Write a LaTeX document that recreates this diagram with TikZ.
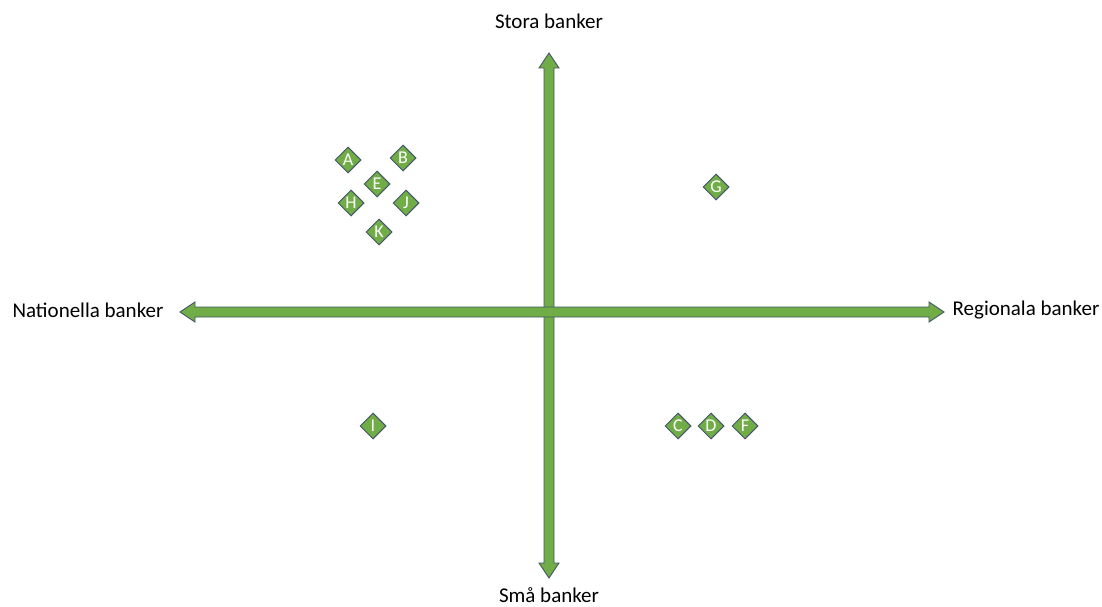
\documentclass[tikz,border=0pt]{standalone}
\usepackage{fontspec}
\setmainfont{Carlito}
\usetikzlibrary{shapes.geometric}
\definecolor{agreen}{HTML}{70AD47}
\definecolor{aedge}{HTML}{44546A}
\tikzset{
  bank/.style={diamond, draw=aedge, line width=1pt, fill=agreen, text=white, inner sep=0pt,
    minimum width=26pt, minimum height=26pt, aspect=1, font=\fontsize{18}{18}\selectfont},
  axislabel/.style={font=\fontsize{21}{22}\selectfont, text=black, inner sep=0pt},
  axisarrow/.style={draw=aedge, line width=0.9pt, fill=agreen, line join=miter}
}
\begin{document}
\begin{tikzpicture}[x=1pt,y=-1pt]
\useasboundingbox (0,0) rectangle (1102,607);
% vertical axis
\draw[axisarrow] (549,53) -- (559,68) -- (554,68) -- (554,563) -- (559,563) -- (549,578) -- (539,563) -- (544,563) -- (544,68) -- (539,68) -- cycle;
% horizontal axis
\draw[axisarrow] (180,312) -- (195,302) -- (195,307) -- (929,307) -- (929,302) -- (944,312) -- (929,322) -- (929,317) -- (195,317) -- (195,322) -- cycle;
% labels
\node[axislabel] (top) at (549,21) {Stora banker};
\node[axislabel] (bottom) at (549,595) {Små banker};
\node[axislabel] (left) at (88,310) {Nationella banker};
\node[axislabel] (right) at (1026,310) {Regionala banker};
% banks
\node[bank] (A) at (348,160) {A};
\node[bank] (B) at (403,158) {B};
\node[bank] (E) at (377,184) {E};
\node[bank] (H) at (351,203) {H};
\node[bank] (J) at (406,203) {J};
\node[bank] (K) at (379,232) {K};
\node[bank] (G) at (716,187) {G};
\node[bank] (I) at (373,426) {I};
\node[bank] (C) at (678,426) {C};
\node[bank] (D) at (711,426) {D};
\node[bank] (F) at (745,426) {F};
\end{tikzpicture}
\end{document}
